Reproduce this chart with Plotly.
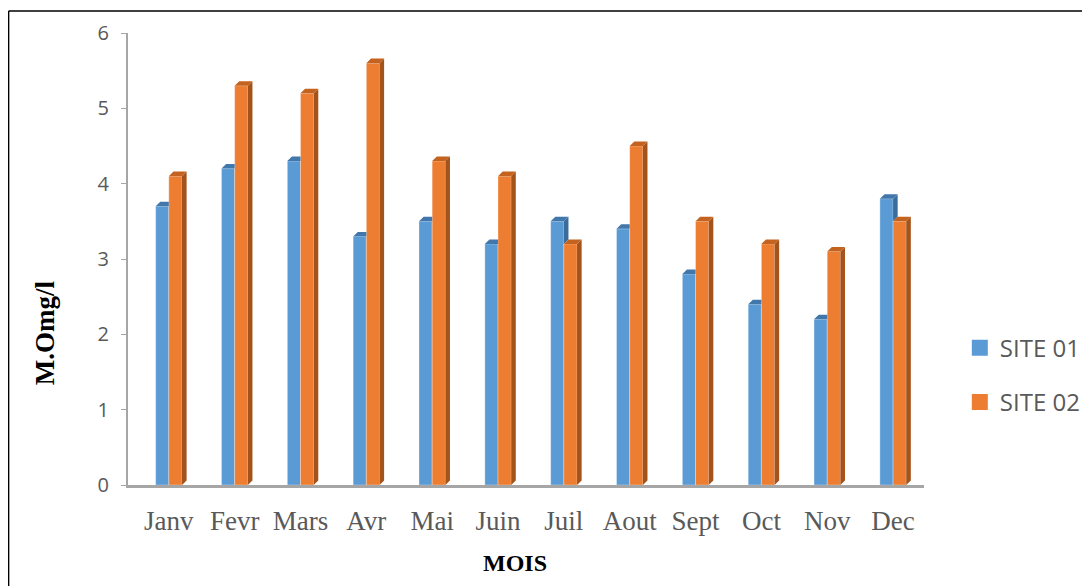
import plotly.graph_objects as go

# data
months = ['Janv', 'Fevr', 'Mars', 'Avr', 'Mai', 'Juin',
          'Juil', 'Aout', 'Sept', 'Oct', 'Nov', 'Dec']
site01 = [3.7, 4.2, 4.3, 3.3, 3.5, 3.2, 3.5, 3.4, 2.8, 2.4, 2.2, 3.8]
site02 = [4.1, 5.3, 5.2, 5.6, 4.3, 4.1, 3.2, 4.5, 3.5, 3.2, 3.1, 3.5]
y_ticks = [0, 1, 2, 3, 4, 5, 6]

BLUE, BLUE_SIDE, BLUE_TOP = '#5B9BD5', '#3A6C9C', '#4277AB'
ORANGE, ORANGE_SIDE, ORANGE_TOP = '#ED7D31', '#A4531B', '#C4631F'
W, D, DY = 0.2, 0.07, 0.06   # bar width, fake 3D depth (x / y)

idx = list(range(len(months)))


def faces(xs, ys):
    """join polygons into one None-separated path for fill='toself'"""
    px, py = [], []
    for x, y in zip(xs, ys):
        px += x + [x[0], None]
        py += y + [y[0], None]
    return px, py


blue_x, blue_y, blue_tx, blue_ty = [], [], [], []
org_x, org_y, org_tx, org_ty = [], [], [], []
for i, b, o in zip(idx, site01, site02):
    # blue side only visible above the orange bar
    if b > o:
        blue_x.append([i, i, i + D, i + D])
        blue_y.append([o, b, b + DY, o + DY])
        blue_tx.append([i - W, i - W + D, i + D, i])
    else:
        blue_tx.append([i - W, i - W + D, i, i])
    blue_ty.append([b, b + DY, b + DY, b])
    org_x.append([i + W, i + W, i + W + D, i + W + D])
    org_y.append([0, o, o + DY, DY])
    org_tx.append([i, i + D, i + W + D, i + W])
    org_ty.append([o, o + DY, o + DY, o])

fig = go.Figure()

fig.add_trace(go.Bar(x=idx, y=site01, offset=-W, width=W, marker_color=BLUE,
                     marker_line=dict(color='rgba(255,255,255,0.6)', width=0.5),
                     showlegend=False, hoverinfo='skip'))
fig.add_trace(go.Bar(x=idx, y=site02, offset=0, width=W, marker_color=ORANGE,
                     marker_line=dict(color='rgba(255,255,255,0.6)', width=0.5),
                     showlegend=False, hoverinfo='skip'))

for xs, ys, col in [(blue_x, blue_y, BLUE_SIDE), (blue_tx, blue_ty, BLUE_TOP),
                    (org_x, org_y, ORANGE_SIDE), (org_tx, org_ty, ORANGE_TOP)]:
    if not xs:
        continue
    px, py = faces(xs, ys)
    fig.add_trace(go.Scatter(x=px, y=py, mode='lines', fill='toself',
                             fillcolor=col, line=dict(width=0),
                             showlegend=False, hoverinfo='skip'))

# legend entries
for name, col, grp in [('SITE 01', BLUE, 'a'), ('SITE 02', ORANGE, 'b')]:
    fig.add_trace(go.Scatter(x=[None], y=[None], mode='markers', name=name,
                             legendgroup=grp,
                             marker=dict(symbol='square', size=16, color=col)))

fig.update_layout(
    width=1090, height=586,
    margin=dict(l=120, r=171, t=25, b=109),
    plot_bgcolor='white', paper_bgcolor='white',
    showlegend=True,
    legend=dict(x=1.045, y=0.243, xanchor='left', yanchor='middle',
                font=dict(family='Open Sans', size=24, color='#595959'),
                tracegroupgap=20, bgcolor='rgba(0,0,0,0)'),
    xaxis=dict(range=[-0.62, 11.47], tickvals=idx, ticktext=months,
               showgrid=False, zeroline=False, showline=True,
               linecolor='#A6A6A6', linewidth=3, ticks='',
               ticklabelstandoff=10,
               tickfont=dict(family='Liberation Serif', size=27, color='#595959')),
    yaxis=dict(range=[0, 6], tickvals=y_ticks, showgrid=False, zeroline=False,
               showline=True, linecolor='#A6A6A6', linewidth=2,
               ticks='outside', ticklen=5, tickcolor='#A6A6A6',
               ticklabelstandoff=8,
               tickfont=dict(family='Open Sans', size=20, color='#595959')),
    annotations=[
        dict(text='<b>MOIS</b>', x=0.486, y=-0.1726, xref='paper', yref='paper',
             xanchor='center', yanchor='middle', showarrow=False,
             font=dict(family='Liberation Serif', size=24, color='black')),
        dict(text='<b>M.Omg/l</b>', x=-0.104, y=0.336, xref='paper', yref='paper',
             xanchor='center', yanchor='middle', showarrow=False, textangle=-90,
             font=dict(family='Liberation Serif', size=27, color='black')),
    ],
    shapes=[
        dict(type='line', xref='paper', yref='paper', x0=-0.150, x1=-0.150,
             y0=-0.3, y1=1.0487, line=dict(color='black', width=1.5)),
        dict(type='line', xref='paper', yref='paper', x0=-0.150, x1=1.3,
             y0=1.0487, y1=1.0487, line=dict(color='black', width=1.5)),
    ],
)

fig.write_html("out.html")
